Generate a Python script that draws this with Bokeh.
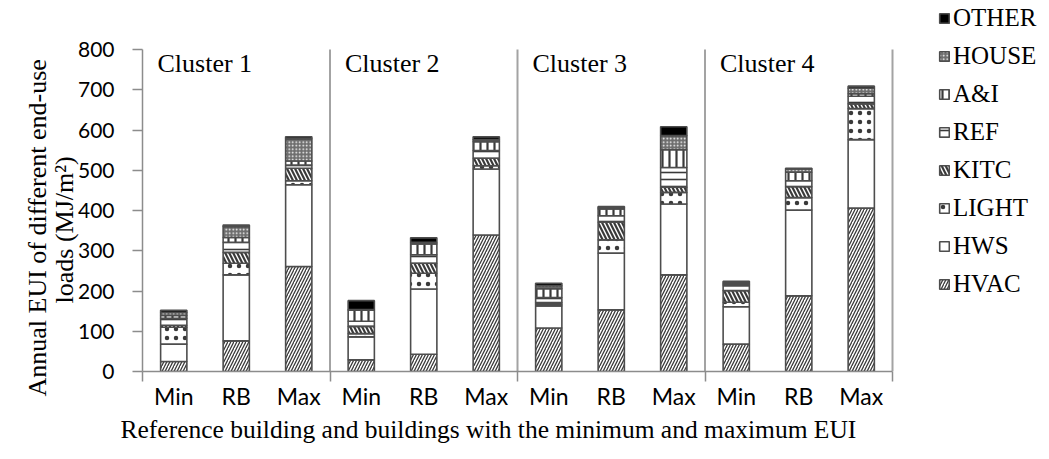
from bokeh.plotting import figure
from bokeh.models import (Range1d, FixedTicker, Label, Legend, LegendItem,
                          ColumnDataSource, Title)
from bokeh.embed import file_html
from bokeh.resources import INLINE

# ---- data -------------------------------------------------------------
clusters = ["Cluster 1", "Cluster 2", "Cluster 3", "Cluster 4"]
building_types = ["Min", "RB", "Max"]
end_uses = ["HVAC", "HWS", "LIGHT", "KITC", "REF", "A&I", "HOUSE", "OTHER"]

# values ordered: C1 Min, C1 RB, C1 Max, C2 Min, ... C4 Max  (MJ/m2)
HVAC = [25, 76, 261, 29, 43, 339, 108, 153, 240, 68, 188, 406]
HWS = [43, 164, 203, 57, 162, 164, 55, 141, 176, 93, 213, 170]
LIGHT = [42, 29, 10, 8, 39, 8, 4, 33, 29, 11, 31, 77]
KITC = [5, 27, 31, 18, 25, 19, 4, 44, 13, 29, 27, 12]
REF = [17, 25, 8, 13, 21, 19, 13, 16, 49, 12, 15, 19]
AI = [7, 12, 10, 27, 27, 22, 22, 17, 44, 4, 21, 6]
HOUSE = [8, 27, 55, 2, 4, 5, 7, 3, 35, 3, 8, 14]
OTHER = [5, 4, 5, 22, 11, 7, 6, 3, 22, 4, 2, 5]

y_ticks = [0, 100, 200, 300, 400, 500, 600, 700, 800]
y_max = 800
y_title_lines = ["Annual EUI of different end-use", "loads (MJ/m\u00b2)"]
x_title = "Reference building and buildings with the minimum and maximum EUI"

# ---- build ------------------------------------------------------------
n_types = len(building_types)
n_bars = len(clusters) * n_types
xs = [i + 0.5 for i in range(n_bars)]
labels = [building_types[i % n_types] for i in range(n_bars)]

src = ColumnDataSource(dict(x=xs, HVAC=HVAC, HWS=HWS, LIGHT=LIGHT, KITC=KITC,
                            REF=REF, AI=AI, HOUSE=HOUSE, OTHER=OTHER))
stackers = ["HVAC", "HWS", "LIGHT", "KITC", "REF", "AI", "HOUSE", "OTHER"]

# frame: x 0..12 occupies 750px, extra room on the right for the legend;
# y 0..800 occupies 322px, extra room on top for the legend
px_x = 750 / n_bars
px_y = 322 / y_max
p = figure(frame_width=907, frame_height=371,
           x_range=Range1d(0, n_bars + 157 / px_x),
           y_range=Range1d(0, y_max + 49 / px_y),
           output_backend="svg", toolbar_location=None,
           min_border_left=142, min_border_right=0,
           min_border_top=0, min_border_bottom=5)
p.outline_line_color = None
p.xgrid.visible = False
p.ygrid.visible = False
p.background_fill_color = "white"
p.border_fill_color = "white"

fill_colors = ["white", "white", "white", "white", "white", "white", "#6e6e6e", "black"]
hatch_patterns = ["/", " ", ".", "\\", "-", "|", ".", " "]
hatch_colors = ["#3a3a3a", "#3a3a3a", "#3a3a3a", "#3a3a3a", "#3a3a3a", "#3a3a3a", "white", "black"]
hatch_scales = [6, 8, 9, 8, 7, 7, 3.5, 8]
hatch_weights = [1.3, 1, 1.8, 2.2, 1.6, 2.2, 1.6, 1]

renderers = p.vbar_stack(stackers, x="x", width=0.42, source=src,
                         fill_color=fill_colors, hatch_pattern=hatch_patterns,
                         hatch_color=hatch_colors, hatch_scale=hatch_scales,
                         hatch_weight=hatch_weights,
                         line_color="#4d4d4d", line_width=1.6)

# separators between clusters
sep_x = [c * n_types for c in range(1, len(clusters) + 1)]
p.segment(x0=sep_x, y0=[0] * len(sep_x), x1=sep_x, y1=[y_max] * len(sep_x),
          line_color="#a3a3a3", line_width=2)

# cluster titles
for c, name in enumerate(clusters):
    p.add_layout(Label(x=c * n_types + 0.24, y=765, text=name,
                       text_font="Liberation Serif", text_font_size="26px",
                       text_color="black", text_baseline="alphabetic"))

# axes
axis_color = "#8c8c8c"
yax = p.yaxis[0]
yax.bounds = (0, y_max)
yax.ticker = FixedTicker(ticks=y_ticks, minor_ticks=[])
yax.major_tick_out = 10
yax.major_tick_in = 0
yax.axis_line_color = axis_color
yax.axis_line_width = 1.5
yax.major_tick_line_color = axis_color
yax.major_tick_line_width = 1.5
yax.major_label_text_font = "Lato"
yax.major_label_text_font_size = "21px"
yax.major_label_text_color = "black"
yax.major_label_standoff = 18

# y-axis title as two rotated titles on the left (inner line first)
p.add_layout(Title(text=y_title_lines[1], text_font="Liberation Serif",
                   text_font_size="26px", text_font_style="normal",
                   text_color="black", align="left", offset=68,
                   standoff=-8), "left")
p.add_layout(Title(text=y_title_lines[0], text_font="Liberation Serif",
                   text_font_size="26px", text_font_style="normal",
                   text_color="black", align="left", offset=-25,
                   standoff=0), "left")

xax = p.xaxis[0]
xax.bounds = (0, n_bars)
xax.ticker = FixedTicker(ticks=xs, minor_ticks=[c * n_types for c in range(len(clusters) + 1)])
xax.major_label_overrides = {x: lab for x, lab in zip(xs, labels)}
xax.major_tick_out = 0
xax.major_tick_in = 0
xax.minor_tick_out = 10
xax.minor_tick_in = 0
xax.minor_tick_line_color = axis_color
xax.minor_tick_line_width = 1.5
xax.axis_line_color = axis_color
xax.axis_line_width = 1.5
xax.major_label_text_font = "Lato"
xax.major_label_text_font_size = "23px"
xax.major_label_text_color = "black"
xax.major_label_standoff = 0

p.add_layout(Title(text=x_title,
                   text_font="Liberation Serif", text_font_size="25.5px",
                   text_font_style="normal", text_color="black",
                   align="left", offset=-22, standoff=0), "below")

# legend (top-down: OTHER ... HVAC)
legend_names = ["HVAC", "HWS", "LIGHT", "KITC", "REF", "A&I", "HOUSE", "OTHER"]
items = [LegendItem(label=legend_names[i], renderers=[renderers[i]])
         for i in reversed(range(len(legend_names)))]
legend = Legend(items=items, location=(796, 73), orientation="vertical",
                label_text_font="Liberation Serif", label_text_font_size="25px",
                label_text_color="black", glyph_width=12, glyph_height=12,
                label_height=28, spacing=10, padding=0, margin=0,
                label_standoff=3, border_line_color=None,
                background_fill_alpha=0)
p.add_layout(legend, "center")

open("out.html", "w").write(file_html(p, INLINE))
